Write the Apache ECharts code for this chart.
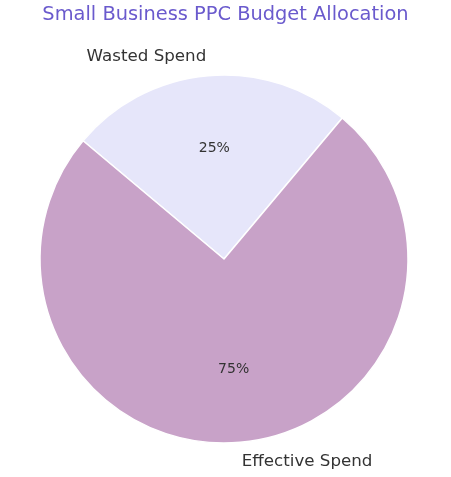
<!DOCTYPE html>
<html>
<head>
<meta charset="utf-8">
<script src="https://cdn.jsdelivr.net/npm/echarts@6/dist/echarts.min.js"></script>
<style>
  html, body { margin: 0; padding: 0; background: #fff; }
  #chart { width: 451px; height: 477px; }
</style>
</head>
<body>
<div id="chart"></div>
<script>
const labels = ['Wasted Spend', 'Effective Spend']
const values = [25, 75]
const colors = ['#E6E6FA', '#C8A2C8']

const CX = 224, CY = 259, R = 184
const FONT = '"DejaVu Sans", sans-serif'

const data = labels.map((name, i) => ({ name, value: values[i], itemStyle: { color: colors[i] } }))
const ghost = labels.map((name, i) => ({ name, value: values[i] }))

const chart = echarts.init(document.getElementById('chart'), null, { renderer: 'canvas' })
chart.setOption({
  animation: false,
  backgroundColor: '#fff',
  title: {
    text: 'Small Business PPC Budget Allocation',
    left: 'center',
    top: 0,
    textStyle: { color: '#6A5ACD', fontSize: 19.4, fontWeight: 'normal', fontFamily: FONT },
  },
  series: [
    {
      // main wedges + outer name labels
      type: 'pie',
      center: [CX, CY],
      radius: [0, R],
      startAngle: 140,
      clockwise: true,
      avoidLabelOverlap: false,
      silent: true,
      data,
      itemStyle: { borderColor: '#fff', borderWidth: 1.5 },
      label: {
        show: true,
        position: 'outside',
        formatter: '{b}',
        color: '#333',
        fontSize: 16.7,
        fontFamily: FONT,
        distanceToLabelLine: 0,
      },
      labelLine: { show: false, length: 19.5, length2: 0 },
      emphasis: { disabled: true },
    },
    {
      // invisible ring, only carries the percent labels
      type: 'pie',
      center: [CX, CY],
      radius: [0, 216],
      startAngle: 140,
      clockwise: true,
      silent: true,
      z: 3,
      data: ghost,
      itemStyle: { color: 'rgba(0,0,0,0)', borderWidth: 0 },
      label: {
        show: true,
        position: 'inside',
        formatter: p => Math.round(p.percent) + '%',
        color: '#333',
        fontSize: 14,
        fontFamily: FONT,
      },
      labelLine: { show: false },
      emphasis: { disabled: true },
    },
  ],
})
</script>
</body>
</html>
